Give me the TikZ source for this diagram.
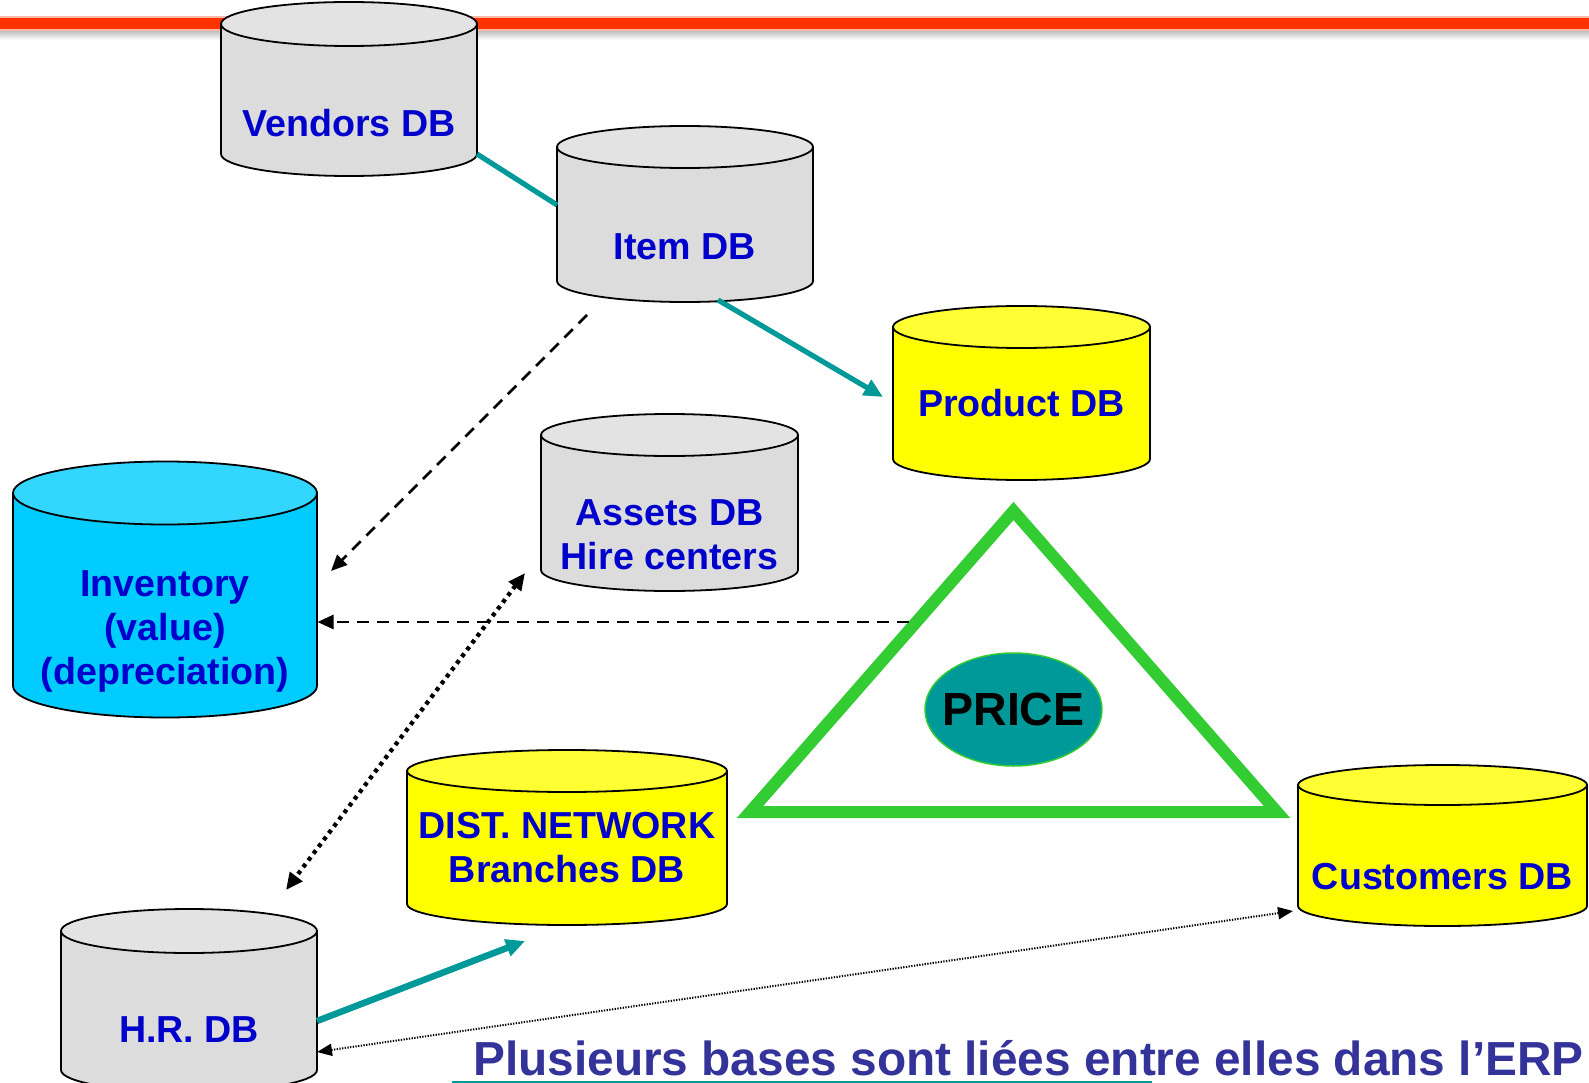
\documentclass[tikz,border=0pt]{standalone}
\usepackage{fontspec}
\setmainfont{Liberation Sans}
\usetikzlibrary{arrows.meta,calc,shapes.geometric}
\definecolor{dbgray}{HTML}{DCDCDC}
\definecolor{dbgraytop}{HTML}{E3E3E3}
\definecolor{dbyellow}{HTML}{FFFF00}
\definecolor{dbyellowtop}{HTML}{FFFF33}
\definecolor{dbcyan}{HTML}{00CCFF}
\definecolor{dbcyantop}{HTML}{33D6FF}
\definecolor{dbtext}{HTML}{0000CC}
\definecolor{tealc}{HTML}{009999}
\definecolor{greenc}{HTML}{33CC33}
\definecolor{titlec}{HTML}{333399}
\definecolor{redc}{HTML}{FF3300}
\tikzset{
  cylline/.style={draw=black, line width=1.8pt},
  dblabel/.style={text=dbtext, font=\bfseries\fontsize{37.6}{44}\selectfont, align=center, inner sep=0pt},
  tealline/.style={draw=tealc, line width=5.2pt},
  tealarrow/.style={tealline, -{Triangle[length=19pt,width=17pt]}},
  dasharrow/.style={draw=black, line width=2.7pt, dash pattern=on 12pt off 8pt, -{Triangle[length=16pt,width=14pt]}},
  dotarrow/.style={draw=black, line width=4.3pt, dash pattern=on 4pt off 4.5pt, {Triangle[length=17pt,width=15pt]}-{Triangle[length=17pt,width=15pt]}},
  thindotarrow/.style={draw=black, line width=2pt, dash pattern=on 1.3pt off 1.4pt, {Triangle[length=15pt,width=12pt]}-{Triangle[length=15pt,width=12pt]}},
}
% #1 name, #2 cx, #3 top y, #4 bottom y, #5 rx, #6 ry, #7 body fill, #8 top fill
\newcommand{\dbcyl}[8]{%
  \filldraw[cylline, fill=#7] ({#2-#5},#3) -- ({#2-#5},#4) arc[start angle=180, end angle=0, x radius=#5, y radius=#6] -- ({#2+#5},#3) -- cycle;
  \filldraw[cylline, fill=#8] (#2,#3) ellipse[x radius=#5, y radius=#6];
  \node[inner sep=0pt, outer sep=0pt, minimum width={2*#5}, minimum height={#4-#3}] (#1) at (#2,{(#3+#4)/2}) {};
}
\begin{document}
\begin{tikzpicture}[x=1pt,y=-1pt]
\fill[white] (0,0) rectangle (1589,1083);
\useasboundingbox (0,0) rectangle (1589,1083);
% top red rule with shadow
\shade[top color=black!30, bottom color=white] (0,29) rectangle (1589,40);
\fill[redc!35] (0,16) rectangle (1589,31);
\fill[redc] (0,18.5) rectangle (1589,29.5);

% databases
\dbcyl{vend}{349}{24}{154}{128}{22}{dbgray}{dbgraytop}
\dbcyl{item}{685}{147}{281}{128}{21}{dbgray}{dbgraytop}
\dbcyl{prod}{1021.5}{327}{459}{128.5}{21}{dbyellow}{dbyellowtop}
\dbcyl{assets}{669.5}{435}{570}{128.5}{21}{dbgray}{dbgraytop}
\dbcyl{inv}{165}{493}{686}{152}{31.5}{dbcyan}{dbcyantop}
\dbcyl{dist}{567}{771}{904}{160}{21}{dbyellow}{dbyellowtop}
\dbcyl{hr}{189}{931}{1070}{128}{22}{dbgray}{dbgraytop}
\dbcyl{cust}{1442.5}{785}{906}{144.5}{20}{dbyellow}{dbyellowtop}

% labels
\node[dblabel] (vendt) at (349,123) {Vendors DB};
\node[dblabel] (itemt) at (685,247) {Item DB};
\node[dblabel] (prodt) at (1021.5,403) {Product DB};
\node[dblabel] (assetst) at (669.5,535) {Assets DB\\Hire centers};
\node[dblabel] (invt) at (165,631) {Inventory\\(value)\\(depreciation)};
\node[dblabel] (distt) at (567,847.5) {DIST. NETWORK\\Branches DB};
\node[dblabel] (hrt) at (189,1030) {H.R. DB};
\node[dblabel] (custt) at (1442.5,877) {Customers DB};

% price triangle
\coordinate (tA) at (1013.5,511);
\coordinate (tL) at (750,812);
\coordinate (tR) at (1277,812);
\draw[greenc, line width=12pt, line join=miter] (tA) -- (tL) -- (tR) -- cycle;
\node[ellipse, fill=tealc, draw=greenc, line width=1.5pt, minimum width=177pt, minimum height=113pt, inner sep=0pt] (price) at (1013.5,709.5) {};
\node[inner sep=0pt, font=\bfseries\fontsize{46.5}{50}\selectfont, text=black] (pricet) at (price.center) {PRICE};

% connectors
\draw[tealline] (vend.south east) -- ($(item.west)+(0,-9)$);
\draw[tealarrow] ($(item.south)+(33,19)$) -- ($(prod.west)+(-10,4)$);
\coordinate (dstart) at ($(item.south)+(-98,34)$);
\draw[dasharrow] (dstart) -- ($(inv.east)+(14,-18.5)$);
\coordinate (hstart) at (909,622);
\draw[dasharrow] (hstart) -- ($(inv.east)+(0.5,32.5)$);
\draw[dotarrow] ($(assets.south west)+(-16,3)$) -- ($(hr.north east)+(-31,-41)$);
\draw[thindotarrow] ($(hr.east)+(0,51.5)$) -- ($(cust.south west)+(-5,5)$);
\draw[tealarrow, line width=6.5pt] ($(hr.east)+(0,20.5)$) -- ($(dist.south)+(-42,37)$);

% title
\node[anchor=base west, text=titlec, font=\bfseries\fontsize{47.8}{56}\selectfont, inner sep=0pt] (title) at (473,1075) {Plusieurs bases sont liées entre elles dans l’ERP};
\draw[tealc, line width=1.6pt] ($(title.base west)+(-21,7)$) -- ($(title.base west)+(679,7)$);
\end{tikzpicture}
\end{document}
